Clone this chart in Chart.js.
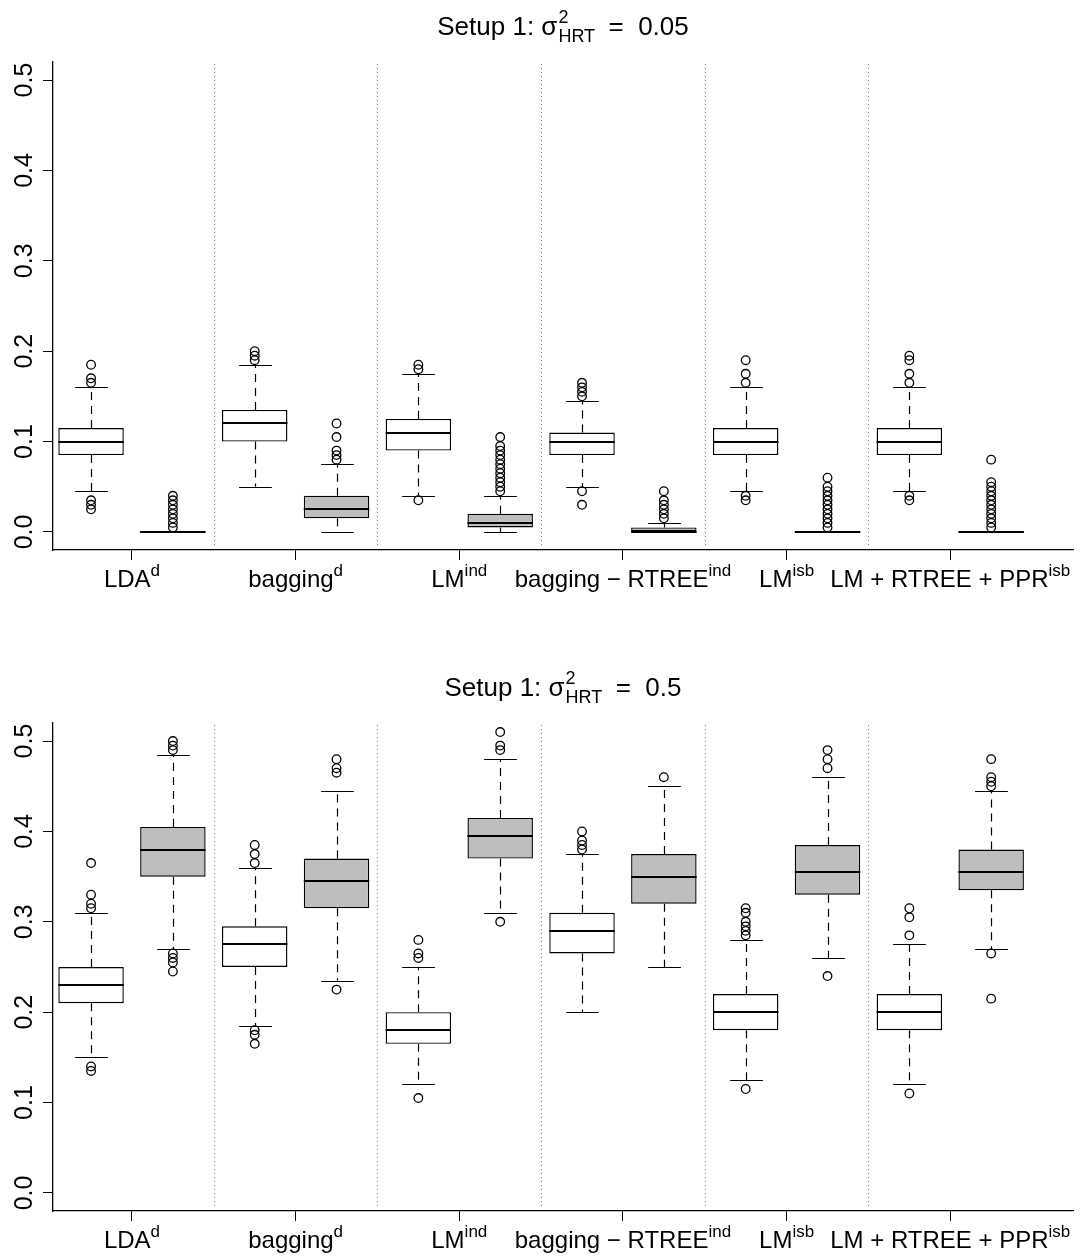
<!DOCTYPE html>
<html>
<head>
<meta charset="utf-8">
<script src="https://cdn.jsdelivr.net/npm/chart.js@4.4.0/dist/chart.umd.min.js"></script>
<style>
  body { margin: 0; background: #fff; }
  #wrap { position: relative; width: 1080px; height: 1257px; }
  canvas { position: absolute; left: 0; }
</style>
</head>
<body>
<div id="wrap">
  <canvas id="chartLow" width="1080" height="661" style="top:0"></canvas>
  <canvas id="chartHigh" width="1080" height="596" style="top:661px"></canvas>
</div>
<script>
const methods = ["LDA", "bagging", "LM", "bagging \u2212 RTREE", "LM", "LM + RTREE + PPR"];
const methodSup = ["d", "d", "ind", "ind", "isb", "isb"];
const yTicks = [0, 0.1, 0.2, 0.3, 0.4, 0.5];

// setup 1, sigma^2_HRT = 0.05 (12 boxes: white / grey per method)
const lowWhiskLo = [0.045, 0, 0.05, 0, 0.04, 0, 0.05, 0, 0.045, 0, 0.045, 0];
const lowQ1 = [0.085, 0, 0.10, 0.015, 0.09, 0.005, 0.085, 0, 0.085, 0, 0.085, 0];
const lowMedian = [0.10, 0, 0.12, 0.025, 0.11, 0.01, 0.10, 0, 0.10, 0, 0.10, 0];
const lowQ3 = [0.115, 0, 0.135, 0.04, 0.125, 0.02, 0.11, 0.005, 0.115, 0, 0.115, 0];
const lowWhiskHi = [0.16, 0, 0.185, 0.075, 0.175, 0.04, 0.145, 0.01, 0.16, 0, 0.16, 0];
const lowOutliers = [
    [0.185, 0.17, 0.165, 0.035, 0.03, 0.025],
    [0.005, 0.01, 0.015, 0.02, 0.025, 0.03, 0.035, 0.04],
    [0.2, 0.195, 0.19],
    [0.12, 0.105, 0.09, 0.085, 0.08],
    [0.185, 0.18, 0.035],
    [0.045, 0.05, 0.055, 0.06, 0.065, 0.07, 0.075, 0.08, 0.085, 0.09, 0.095, 0.105],
    [0.165, 0.16, 0.155, 0.15, 0.045, 0.03],
    [0.015, 0.02, 0.025, 0.03, 0.035, 0.045],
    [0.19, 0.175, 0.165, 0.04, 0.035],
    [0.005, 0.01, 0.015, 0.02, 0.025, 0.03, 0.035, 0.04, 0.045, 0.05, 0.06],
    [0.195, 0.19, 0.175, 0.165, 0.04, 0.035],
    [0.005, 0.01, 0.015, 0.02, 0.025, 0.03, 0.035, 0.04, 0.045, 0.05, 0.055, 0.08]
];

// setup 1, sigma^2_HRT = 0.5
const highWhiskLo = [0.15, 0.27, 0.185, 0.235, 0.12, 0.31, 0.2, 0.25, 0.125, 0.26, 0.12, 0.27];
const highQ1 = [0.21, 0.35, 0.25, 0.315, 0.165, 0.37, 0.265, 0.32, 0.18, 0.33, 0.18, 0.335];
const highMedian = [0.23, 0.38, 0.275, 0.345, 0.18, 0.395, 0.29, 0.35, 0.2, 0.355, 0.2, 0.355];
const highQ3 = [0.25, 0.405, 0.295, 0.37, 0.2, 0.415, 0.31, 0.375, 0.22, 0.385, 0.22, 0.38];
const highWhiskHi = [0.31, 0.485, 0.36, 0.445, 0.25, 0.48, 0.375, 0.45, 0.28, 0.46, 0.275, 0.445];
const highOutliers = [
    [0.365, 0.33, 0.32, 0.315, 0.14, 0.135],
    [0.5, 0.495, 0.49, 0.265, 0.26, 0.255, 0.245],
    [0.385, 0.375, 0.365, 0.18, 0.175, 0.165],
    [0.48, 0.47, 0.465, 0.225],
    [0.28, 0.265, 0.26, 0.105],
    [0.51, 0.495, 0.49, 0.3],
    [0.4, 0.39, 0.385, 0.38],
    [0.46],
    [0.315, 0.31, 0.3, 0.295, 0.29, 0.285, 0.115],
    [0.49, 0.48, 0.47, 0.24],
    [0.315, 0.305, 0.285, 0.11],
    [0.48, 0.46, 0.455, 0.45, 0.265, 0.215]
];

const FONT = '"Liberation Sans", Arial, Helvetica, sans-serif';

function drawSupText(ctx, cx, baseY, text, sup, bigSize, smallSize, rise) {
    ctx.font = bigSize + "px " + FONT;
    const w1 = ctx.measureText(text).width;
    ctx.font = smallSize + "px " + FONT;
    const w2 = ctx.measureText(sup).width;
    const x0 = cx - (w1 + w2) / 2;
    ctx.textAlign = "left";
    ctx.textBaseline = "alphabetic";
    ctx.font = bigSize + "px " + FONT;
    ctx.fillText(text, x0, baseY);
    ctx.font = smallSize + "px " + FONT;
    ctx.fillText(sup, x0 + w1, baseY - rise);
}

function drawTitle(ctx, cx, baseY, value) {
    const big = "26px " + FONT;
    const small = "18px " + FONT;
    const head = "Setup 1: \u03c3";
    const tail = "  =  " + value;
    ctx.font = big;
    const w1 = ctx.measureText(head).width;
    const w3 = ctx.measureText(tail).width;
    ctx.font = small;
    const w2 = Math.max(ctx.measureText("2").width, ctx.measureText("HRT").width);
    let x = cx - (w1 + w2 + w3) / 2;
    ctx.textAlign = "left";
    ctx.textBaseline = "alphabetic";
    ctx.fillStyle = "#000";
    ctx.font = big;
    ctx.fillText(head, x, baseY);
    x += w1;
    ctx.font = small;
    ctx.fillText("2", x + 1, baseY - 12);
    ctx.fillText("HRT", x + 1, baseY + 7);
    x += w2;
    ctx.font = big;
    ctx.fillText(tail, x, baseY);
}

const boxParts = {
    id: "boxParts",
    beforeDatasetsDraw(chart) {
        const { ctx, chartArea } = chart;
        const x = chart.scales.x;
        const y = chart.scales.y;
        const p = chart.options.plugins.boxParts;
        ctx.save();
        // dotted separators between methods
        ctx.strokeStyle = "#7a7a7a";
        ctx.lineWidth = 1;
        ctx.setLineDash([1, 3]);
        for (let g = 1; g < methods.length; g++) {
            const px = Math.round(x.getPixelForValue(2 * g + 0.5)) + 0.5;
            ctx.beginPath();
            ctx.moveTo(px, chartArea.top + 2);
            ctx.lineTo(px, chartArea.bottom - 3);
            ctx.stroke();
        }
        // whiskers
        ctx.strokeStyle = "#000";
        ctx.lineWidth = 1.2;
        const capHalf = x.getPixelForValue(1.2) - x.getPixelForValue(1);
        p.lo.forEach((lo, i) => {
            const px = Math.round(x.getPixelForValue(i + 1)) + 0.5;
            ctx.setLineDash([8, 6]);
            ctx.beginPath();
            ctx.moveTo(px, y.getPixelForValue(p.q1[i]));
            ctx.lineTo(px, y.getPixelForValue(lo));
            ctx.moveTo(px, y.getPixelForValue(p.q3[i]));
            ctx.lineTo(px, y.getPixelForValue(p.hi[i]));
            ctx.stroke();
            ctx.setLineDash([]);
            ctx.beginPath();
            [lo, p.hi[i]].forEach(v => {
                const py = Math.round(y.getPixelForValue(v)) + 0.5;
                ctx.moveTo(px - capHalf, py);
                ctx.lineTo(px + capHalf, py);
            });
            ctx.stroke();
        });
        ctx.restore();
    },
    afterDatasetsDraw(chart) {
        const { ctx } = chart;
        const x = chart.scales.x;
        const y = chart.scales.y;
        const p = chart.options.plugins.boxParts;
        const half = x.getPixelForValue(1.4) - x.getPixelForValue(1);
        ctx.save();
        ctx.strokeStyle = "#000";
        ctx.lineWidth = 2;
        p.med.forEach((m, i) => {
            const px = x.getPixelForValue(i + 1);
            const py = Math.round(y.getPixelForValue(m));
            ctx.beginPath();
            ctx.moveTo(px - half, py);
            ctx.lineTo(px + half, py);
            ctx.stroke();
        });
        ctx.restore();
    },
    afterDraw(chart) {
        const { ctx, chartArea } = chart;
        const x = chart.scales.x;
        const y = chart.scales.y;
        const p = chart.options.plugins.boxParts;
        ctx.save();
        ctx.fillStyle = "#000";
        drawTitle(ctx, (chartArea.left + chartArea.right) / 2, 35, p.title);
        // y tick labels, parallel to the axis
        ctx.font = "25px " + FONT;
        ctx.textAlign = "center";
        ctx.textBaseline = "alphabetic";
        yTicks.forEach(v => {
            ctx.save();
            ctx.translate(32, y.getPixelForValue(v));
            ctx.rotate(-Math.PI / 2);
            ctx.fillText(v.toFixed(1), 0, 0);
            ctx.restore();
        });
        // x group labels with superscripts
        methods.forEach((m, g) => {
            drawSupText(ctx, x.getPixelForValue(2 * g + 1.5), chartArea.bottom + 37, m, methodSup[g], 24, 17, 11);
        });
        ctx.restore();
    }
};

function makePanel(canvasId, canvasHeight, title, lo, q1, med, q3, hi, outliers) {
    const boxData = q1.map((v, i) => ({ x: i + 1, y: [v, q3[i]] }));
    const outlierData = [];
    outliers.forEach((list, i) => list.forEach(v => outlierData.push({ x: i + 1, y: v })));

    return new Chart(document.getElementById(canvasId), {
        type: "bar",
        data: {
            datasets: [
                {
                    type: "bar",
                    order: 1,
                    data: boxData,
                    backgroundColor: boxData.map((d, i) => (i % 2 ? "#bebebe" : "#ffffff")),
                    borderColor: "#000",
                    borderWidth: 1.4,
                    borderSkipped: false,
                    barPercentage: 0.8,
                    categoryPercentage: 1
                },
                {
                    type: "scatter",
                    order: 0,
                    data: outlierData,
                    pointRadius: 4.3,
                    pointBackgroundColor: "rgba(0,0,0,0)",
                    pointBorderColor: "#000",
                    pointBorderWidth: 1.3
                }
            ]
        },
        options: {
            responsive: false,
            animation: false,
            devicePixelRatio: 1,
            layout: { padding: { top: 62, right: 7, left: 0, bottom: 0 } },
            scales: {
                x: {
                    type: "linear",
                    min: 0.535,
                    max: 13,
                    offset: false,
                    afterBuildTicks: s => { s.ticks = methods.map((m, g) => ({ value: 2 * g + 1.5 })); },
                    afterFit: s => { s.height = canvasHeight - 550; },
                    grid: { display: true, drawOnChartArea: false, drawTicks: true, tickLength: 10, color: "#000", offset: false },
                    border: { display: true, color: "#000", width: 1.3 },
                    ticks: { display: false }
                },
                y: {
                    type: "linear",
                    min: -0.02,
                    max: 0.52,
                    afterBuildTicks: s => { s.ticks = yTicks.map(v => ({ value: v })); },
                    afterFit: s => { s.width = 53; },
                    grid: { display: true, drawOnChartArea: false, drawTicks: true, tickLength: 10, color: "#000" },
                    border: { display: true, color: "#000", width: 1.3 },
                    ticks: { display: false }
                }
            },
            plugins: {
                legend: { display: false },
                tooltip: { enabled: false },
                boxParts: { title: title, lo: lo, q1: q1, med: med, q3: q3, hi: hi }
            }
        },
        plugins: [boxParts]
    });
}

makePanel("chartLow", 661, "0.05", lowWhiskLo, lowQ1, lowMedian, lowQ3, lowWhiskHi, lowOutliers);
makePanel("chartHigh", 596, "0.5", highWhiskLo, highQ1, highMedian, highQ3, highWhiskHi, highOutliers);
</script>
</body>
</html>
